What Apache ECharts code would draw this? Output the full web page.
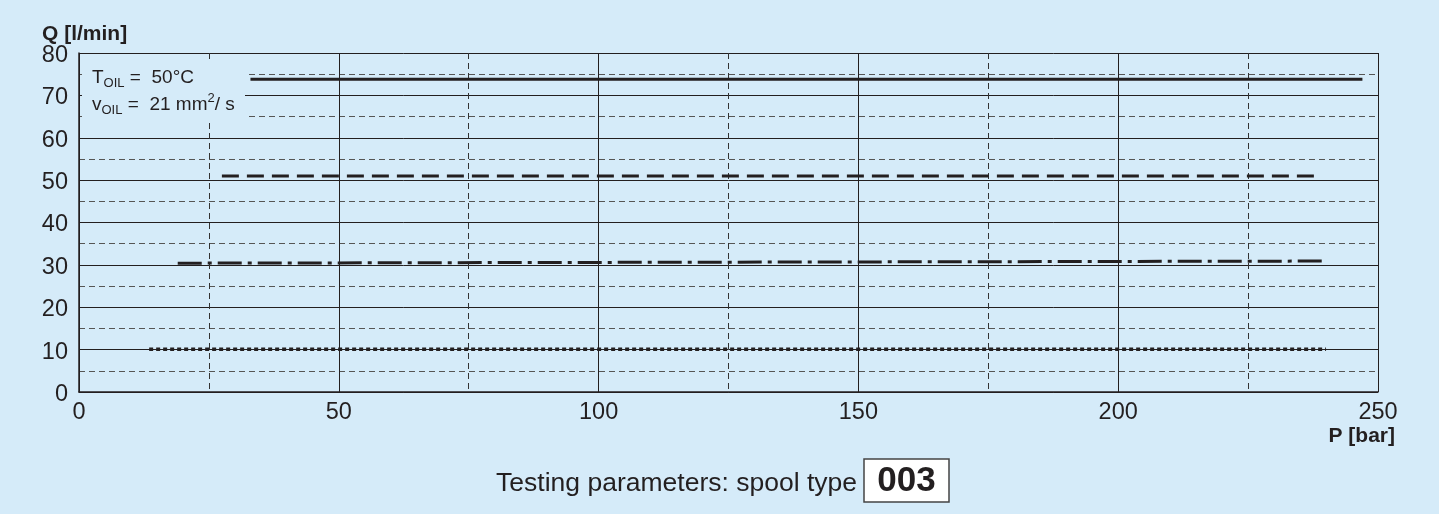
<!DOCTYPE html>
<html>
<head>
<meta charset="utf-8">
<script src="https://cdn.jsdelivr.net/npm/echarts@6/dist/echarts.min.js"></script>
<style>
html,body{margin:0;padding:0;background:#d5ebf9;}
#c{width:1439px;height:514px;}
</style>
</head>
<body>
<div id="c"></div>
<script>
// ---- data ----
var xTicks = [0, 50, 100, 150, 200, 250];
var yTicks = [0, 10, 20, 30, 40, 50, 60, 70, 80];
var solidLine   = [[33, 73.8], [247, 73.8]];
var dashedLine  = [[27.5, 51.0], [239, 51.0]];
var dashDotLine = [[19, 30.4], [239.5, 30.9]];
var dottedLine  = [[13.5, 10.1], [240, 10.1]];
var xName = 'P [bar]';
var yName = 'Q [l/min]';
var caption = 'Testing parameters: spool type';
var spoolType = '003';

var FONT = "'Liberation Sans', Arial, Helvetica, sans-serif";
var INK = '#231f20';
var BG = '#d5ebf9';

var chart = echarts.init(document.getElementById('c'), null, {renderer: 'canvas'});

function lineSeries(data, type, width) {
  return {
    type: 'line', data: data, symbol: 'none', silent: true, z: 5,
    lineStyle: {color: INK, width: width, type: type, cap: 'butt'}
  };
}

chart.setOption({
  backgroundColor: BG,
  animation: false,
  grid: {left: 79, right: 61, top: 53, bottom: 122, containLabel: false},
  xAxis: {
    type: 'value', min: xTicks[0], max: xTicks[xTicks.length - 1], interval: 50,
    axisLine: {show: true, lineStyle: {color: INK, width: 1.5}},
    axisTick: {show: false},
    axisLabel: {color: INK, fontSize: 23.5, fontFamily: FONT, margin: 9},
    splitLine: {show: true, lineStyle: {color: INK, width: 1}},
    minorTick: {show: false, splitNumber: 2},
    minorSplitLine: {show: true, lineStyle: {color: '#333', width: 1, type: [6, 4]}}
  },
  yAxis: {
    type: 'value', min: yTicks[0], max: yTicks[yTicks.length - 1], interval: 10,
    axisLine: {show: true, lineStyle: {color: INK, width: 1.5}},
    axisTick: {show: false},
    axisLabel: {
      color: INK, fontSize: 23.5, fontFamily: FONT, margin: 11,
      formatter: function (v) { return '{v|' + v + '}'; },
      rich: {v: {fontSize: 23.5, fontFamily: FONT, color: INK, padding: [5, 0, 0, 0]}}
    },
    splitLine: {show: true, lineStyle: {color: INK, width: 1}},
    minorTick: {show: false, splitNumber: 2},
    minorSplitLine: {show: true, lineStyle: {color: '#555', width: 1, type: [6, 4]}}
  },
  series: [
    lineSeries(solidLine, 'solid', 3),
    lineSeries(dashedLine, [17, 8], 3),
    lineSeries(dashDotLine, [24, 6, 4, 6], 3),
    lineSeries(dottedLine, [4, 3], 3.5)
  ],
  graphic: [
    {type: 'rect', shape: {x: 82, y: 62, width: 163, height: 60}, style: {fill: BG}, z: 10},
    {type: 'text', x: 92, y: 76, z: 11, style: {
      text: '{a|T}{s|OIL}{a| =  50°C}',
      verticalAlign: 'middle', fill: INK, font: '19px ' + FONT,
      rich: {
        a: {fontSize: 19, fontFamily: FONT, fill: INK, lineHeight: 22, verticalAlign: 'bottom'},
        s: {fontSize: 13, fontFamily: FONT, fill: INK, lineHeight: 22, verticalAlign: 'bottom', padding: [0, 0, -3, 0]}
      }
    }},
    {type: 'text', x: 92, y: 103, z: 11, style: {
      text: '{a|v}{s|OIL}{a| =  21 mm}{p|2}{a|/ s}',
      verticalAlign: 'middle', fill: INK, font: '19px ' + FONT,
      rich: {
        a: {fontSize: 19, fontFamily: FONT, fill: INK, lineHeight: 22, verticalAlign: 'bottom'},
        s: {fontSize: 13, fontFamily: FONT, fill: INK, lineHeight: 22, verticalAlign: 'bottom', padding: [0, 0, -3, 0]},
        p: {fontSize: 13, fontFamily: FONT, fill: INK, lineHeight: 22, verticalAlign: 'top'}
      }
    }},
    {type: 'text', x: 42, y: 34, style: {text: yName, font: 'bold 21px ' + FONT, fill: INK, verticalAlign: 'middle', align: 'left'}},
    {type: 'text', x: 1395, y: 436, style: {text: xName, font: 'bold 21px ' + FONT, fill: INK, verticalAlign: 'middle', align: 'right'}},
    {type: 'text', x: 857, y: 484, style: {text: caption, font: '26.5px ' + FONT, fill: INK, verticalAlign: 'middle', align: 'right'}},
    {type: 'rect', shape: {x: 864, y: 459, width: 85, height: 43}, style: {fill: '#ffffff', stroke: '#444', lineWidth: 1.5}},
    {type: 'text', x: 906.5, y: 481, z: 2, style: {text: spoolType, font: 'bold 35px ' + FONT, fill: INK, verticalAlign: 'middle', align: 'center'}}
  ]
});
</script>
</body>
</html>
